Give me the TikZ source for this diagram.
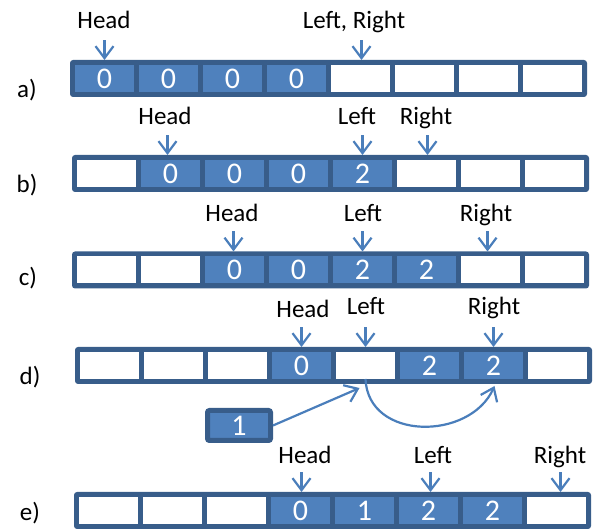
\documentclass[tikz,border=0pt]{standalone}
\usepackage{fontspec}
\setmainfont{Carlito}
\usetikzlibrary{arrows.meta,calc}
\definecolor{dkb}{HTML}{385D8A}
\definecolor{cb}{HTML}{4F81BD}
\definecolor{arr}{HTML}{4A7EBB}
\tikzset{
 barbox/.style={fill=dkb, rounded corners=3pt, minimum width=517pt, minimum height=37pt, inner sep=0pt, outer sep=0pt},
 cellbox/.style={minimum width=59pt, minimum height=27pt, inner sep=0pt, outer sep=0pt, text=white, font=\fontsize{30}{32}\selectfont},
 lbl/.style={font=\fontsize{25}{30}\selectfont, inner sep=0pt, anchor=base, text=black},
 rowlbl/.style={font=\fontsize{25}{30}\selectfont, inner sep=0pt, text=black},
 ptr/.style={draw=arr, line width=2.2pt, -{Straight Barb[length=12pt,width=18pt]}},
 ptrback/.style={draw=arr, line width=2.2pt, {Straight Barb[length=12pt,width=18pt]}-},
 valbox/.style={fill=cb, draw=dkb, line width=5pt, rounded corners=2pt, minimum width=63pt, minimum height=30pt, inner sep=0pt, text=white, font=\fontsize{30}{32}\selectfont},
}
% #1 row name, #2 left x, #3 centre y, #4 list index/colour/text
\newcommand\drawrow[4]{%
  \node[barbox] (#1) at ({#2+258.5},#3) {};
  \foreach \i/\c/\t in {#4} {
    \node[cellbox, fill=\c] (#1\i) at ({#2+34.5+64*\i},#3) {\t};
  }
}
% pointer down onto cell #1 of bar #2, shifted #3 horizontally
\newcommand\pointer[3]{%
  \draw[ptrback] ([xshift=#3]#1.north |- #2.north) -- +(0,-20);
}
\begin{document}
\begin{tikzpicture}[x=1pt,y=-1pt]
\useasboundingbox (0,0) rectangle (598,529);

% row a
\drawrow{ra}{70}{78.5}{0/cb/0,1/cb/0,2/cb/0,3/cb/0,4/white/,5/white/,6/white/,7/white/}
\node[rowlbl] (la) at (27,90) {a)};
\node[lbl] (aH) at (104,29) {Head};
\node[lbl] (aLR) at (354,29) {Left, Right};
\pointer{ra0}{ra}{0pt}
\pointer{ra4}{ra}{1pt}

% row b
\drawrow{rb}{72}{173.5}{0/white/,1/cb/0,2/cb/0,3/cb/0,4/cb/2,5/white/,6/white/,7/white/}
\node[rowlbl] (lb) at (27,185) {b)};
\node[lbl] (bH) at (165,125) {Head};
\node[lbl] (bL) at (357,125) {Left};
\node[lbl] (bR) at (426,125) {Right};
\pointer{rb1}{rb}{-3pt}
\pointer{rb4}{rb}{0pt}
\pointer{rb5}{rb}{1pt}

% row c
\drawrow{rc}{72}{270}{0/white/,1/white/,2/cb/0,3/cb/0,4/cb/2,5/cb/2,6/white/,7/white/}
\node[rowlbl] (lc) at (28,278) {c)};
\node[lbl] (cH) at (232,222) {Head};
\node[lbl] (cL) at (363,222) {Left};
\node[lbl] (cR) at (486,222) {Right};
\pointer{rc2}{rc}{-1pt}
\pointer{rc4}{rc}{0pt}
\pointer{rc6}{rc}{-3pt}

% row d
\drawrow{rd}{75}{365.5}{0/white/,1/white/,2/white/,3/cb/0,4/white/,5/cb/2,6/cb/2,7/white/}
\node[rowlbl] (ld) at (30,377) {d)};
\node[lbl] (dH) at (303,318) {Head};
\node[lbl] (dL) at (366,315) {Left};
\node[lbl] (dR) at (494,315) {Right};
\pointer{rd3}{rd}{0pt}
\pointer{rd4}{rd}{0pt}
\pointer{rd6}{rd}{0pt}
\node[valbox] (v1) at (239,425.5) {1};
\draw[ptr] (v1.east) -- ([xshift=-6pt,yshift=-9pt]rd4.south);
\draw[ptr] (rd4.south) .. controls (368,441) and (470,441) .. ([xshift=1pt,yshift=-7pt]rd6.south);

% row e
\drawrow{re}{74}{510.5}{0/white/,1/white/,2/white/,3/cb/0,4/cb/1,5/cb/2,6/cb/2,7/white/}
\node[rowlbl] (le) at (30,513) {e)};
\node[lbl] (eH) at (305,464) {Head};
\node[lbl] (eL) at (433,464) {Left};
\node[lbl] (eR) at (560,464) {Right};
\pointer{re3}{re}{1pt}
\pointer{re5}{re}{2pt}
\pointer{re7}{re}{4pt}
\end{tikzpicture}
\end{document}
